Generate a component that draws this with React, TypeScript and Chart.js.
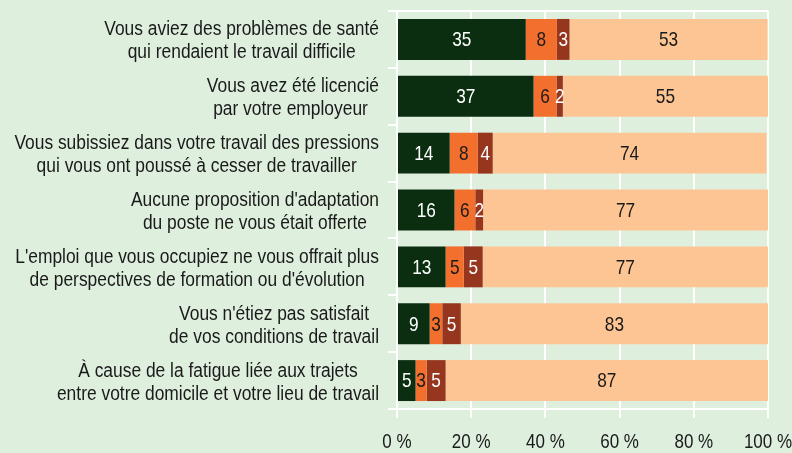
import React, { useEffect, useRef } from "react";
import { Chart, registerables } from "chart.js";

Chart.register(...registerables);

const categories: string[][] = [
  ["Vous aviez des problèmes de santé", "qui rendaient le travail difficile"],
  ["Vous avez été licencié", "par votre employeur "],
  ["Vous subissiez dans votre travail des pressions", "qui vous ont poussé à cesser de travailler"],
  ["Aucune proposition d'adaptation", "du poste ne vous était offerte"],
  ["L'emploi que vous occupiez ne vous offrait plus", "de perspectives de formation ou d'évolution"],
  ["Vous n'étiez pas satisfait", "de vos conditions de travail"],
  ["À cause de la fatigue liée aux trajets", "entre votre domicile et votre lieu de travail"],
];

const seriesA: number[] = [34.7, 36.8, 14.2, 15.5, 13.1, 8.8, 5.0];
const seriesB: number[] = [8.4, 6.2, 7.6, 5.6, 4.9, 3.4, 3.0];
const seriesC: number[] = [3.4, 1.7, 4.0, 2.1, 5.1, 5.0, 5.1];
const seriesD: number[] = [53.4, 55.3, 73.8, 76.8, 76.9, 82.8, 86.9];

const xTicks: number[] = [0, 20, 40, 60, 80, 100];

const FONT = "'Liberation Sans', Arial, sans-serif";
const BG = "#deefdd";
const TEXT = "#1a1a1a";

const labelColors = ["#ffffff", TEXT, "#ffffff", TEXT];

function drawScaled(ctx: any, text: string, x: number, y: number, sx: number) {
  ctx.save();
  ctx.translate(x, y);
  ctx.scale(sx, 1);
  ctx.fillText(text, 0, 0);
  ctx.restore();
}

const barLabelPlugin = {
  id: "barLabels",
  afterDatasetsDraw(chart: any) {
    const ctx = chart.ctx;
    ctx.save();
    ctx.font = `21px ${FONT}`;
    ctx.textAlign = "center";
    ctx.textBaseline = "middle";
    chart.data.datasets.forEach((ds: any, di: number) => {
      const meta = chart.getDatasetMeta(di);
      meta.data.forEach((el: any, i: number) => {
        const v = ds.data[i];
        const x = (el.x + el.base) / 2;
        ctx.fillStyle = labelColors[di];
        drawScaled(ctx, String(Math.round(v)), x, el.y + 1, 0.82);
      });
    });
    ctx.restore();
  },
};

const axisLabelPlugin = {
  id: "axisLabels",
  afterDraw(chart: any) {
    const ctx = chart.ctx;
    const yScale = chart.scales.y;
    const xScale = chart.scales.x;
    const right = 379;
    const lh = 23;
    const sx = 0.87;
    ctx.save();
    ctx.font = `20px ${FONT}`;
    ctx.fillStyle = TEXT;
    ctx.textAlign = "center";
    ctx.textBaseline = "middle";
    categories.forEach((lines, i) => {
      const cy = yScale.getPixelForValue(i) + 2;
      const w = Math.max(...lines.map((l) => ctx.measureText(l.trimEnd()).width)) * sx;
      const cx = right - w / 2;
      const start = cy - ((lines.length - 1) * lh) / 2;
      lines.forEach((l, k) => {
        drawScaled(ctx, l, cx, start + k * lh, sx);
      });
    });
    xTicks.forEach((v) => {
      drawScaled(ctx, `${v} %`, xScale.getPixelForValue(v), 442, 0.85);
    });
    ctx.restore();
  },
};

const bgPlugin = {
  id: "bg",
  beforeDraw(chart: any) {
    const ctx = chart.ctx;
    ctx.save();
    ctx.fillStyle = BG;
    ctx.fillRect(0, 0, chart.width, chart.height);
    ctx.restore();
  },
};

export default function App() {
  const ref = useRef<HTMLCanvasElement | null>(null);
  useEffect(() => {
    if (!ref.current) return;
    const chart = new Chart(ref.current, {
      type: "bar",
      data: {
        labels: categories.map((c) => c.join(" ")),
        datasets: [
          { label: "A", data: seriesA, backgroundColor: "#0b2e10" },
          { label: "B", data: seriesB, backgroundColor: "#f36f2e" },
          { label: "C", data: seriesC, backgroundColor: "#96361f" },
          { label: "D", data: seriesD, backgroundColor: "#fdc593" },
        ].map((d) => ({ ...d, barPercentage: 0.72, categoryPercentage: 1, borderWidth: 0 })),
      },
      options: {
        indexAxis: "y",
        animation: false,
        responsive: true,
        maintainAspectRatio: false,
        layout: { padding: { top: 11, right: 24, left: 0, bottom: 0 } },
        plugins: {
          legend: { display: false },
          tooltip: { enabled: false },
        },
        scales: {
          x: {
            stacked: true,
            min: 0,
            max: 100,
            afterBuildTicks: (scale: any) => {
              scale.ticks = xTicks.map((v) => ({ value: v }));
            },
            afterFit: (scale: any) => {
              scale.height = 44;
              scale.paddingLeft = 0;
              scale.paddingRight = 0;
            },
            ticks: { display: false },
            grid: {
              color: "#ffffff",
              lineWidth: 2,
              tickLength: 9,
              drawTicks: true,
            },
            border: { display: true, color: "#ffffff", width: 2 },
          },
          y: {
            stacked: true,
            afterFit: (scale: any) => {
              scale.width = 397;
              scale.paddingTop = 0;
              scale.paddingBottom = 0;
            },
            ticks: { display: false },
            grid: {
              drawOnChartArea: true,
              color: (c: any) => (c.index === 0 ? "#ffffff" : "rgba(0,0,0,0)"),
              tickColor: "#ffffff",
              lineWidth: 2,
              tickLength: 9,
              drawTicks: true,
            },
            border: { display: true, color: "#ffffff", width: 2 },
          },
        },
      } as any,
      plugins: [bgPlugin, barLabelPlugin, axisLabelPlugin],
    });
    return () => chart.destroy();
  }, []);
  return (
    <div style={{ position: "absolute", left: 0, top: 0, width: 792, height: 453 }}>
      <canvas ref={ref} />
    </div>
  );
}
